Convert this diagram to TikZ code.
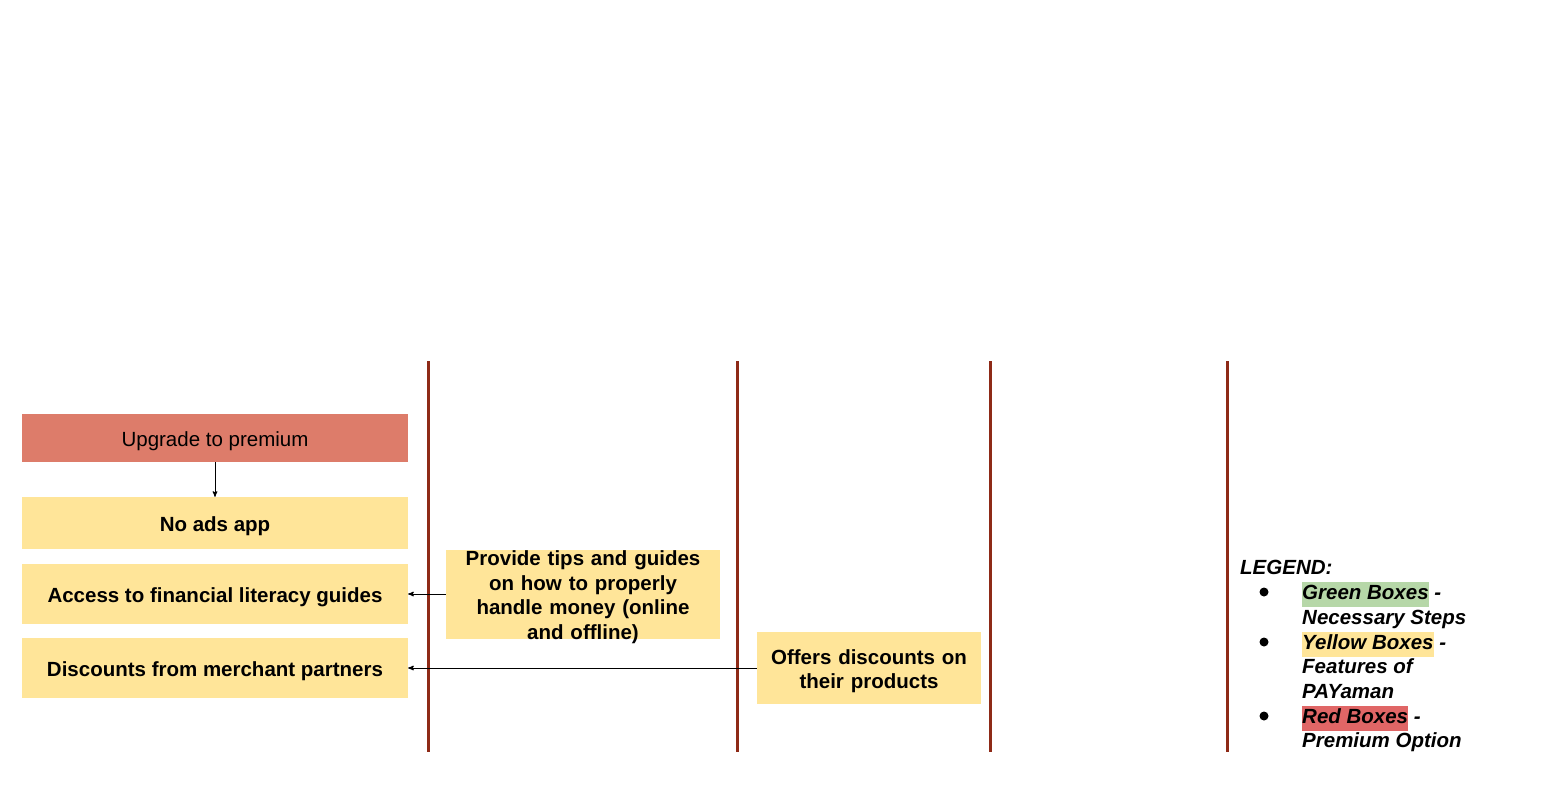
\documentclass[tikz,border=0pt]{standalone}
\usepackage{fontspec}
\setmainfont{Liberation Sans}
\usetikzlibrary{arrows}
\usepackage{xcolor}
\definecolor{premred}{HTML}{DD7C6A}
\definecolor{featyellow}{HTML}{FFE599}
\definecolor{stepgreen}{HTML}{B6D7A8}
\definecolor{legred}{HTML}{E06666}
\definecolor{lanebrown}{HTML}{8E2A17}
\newcommand{\boxfont}{\fontsize{20.5}{24.5}\selectfont}
\newcommand{\hlbox}[2]{{\setlength{\fboxsep}{0pt}\colorbox{#1}{\strut #2}}}
\tikzset{
 premium/.style={fill=premred, align=center, inner sep=0, font=\boxfont,
   execute at begin node={\rule{0pt}{21pt}}},
 feature/.style={fill=featyellow, align=center, inner sep=0, font=\boxfont\bfseries,
   execute at begin node={\rule{0pt}{21pt}}},
 legtext/.style={anchor=base west, inner sep=0, font=\boxfont\bfseries\itshape},
 legdot/.style={circle, fill=black, inner sep=0, minimum size=9},
}

\begin{document}
\begin{tikzpicture}[x=1pt,y=-1pt]
\useasboundingbox (0,0) rectangle (1554,803);
\foreach \x in {428,737,990,1227} {
 \draw[lanebrown, line width=3] (\x,361)--(\x,752);
}
\node[premium, minimum width=386, minimum height=48] (upgrade) at (215,438) {Upgrade to premium};
\node[feature, minimum width=386, minimum height=52] (noads) at (215,523) {No ads app};
\node[feature, minimum width=386, minimum height=60] (access) at (215,594) {Access to financial literacy guides};
\node[feature, minimum width=386, minimum height=60] (discounts) at (215,668) {Discounts from merchant partners};
\node[feature, text width=274, minimum height=89, inner ysep=-5] (tips) at (583,594) {Provide tips and guides\\ on how to properly\\ handle money (online\\ and offline)};
\node[feature, text width=224, minimum height=72] (offers) at (869,668) {Offers discounts on\\ their products};
\draw[black, line width=1, ->, >=stealth'] (upgrade) -- (noads);
\draw[black, line width=1, ->, >=stealth'] (tips) -- (access);
\draw[black, line width=1, ->, >=stealth'] (offers) -- (discounts);
% legend
\node[legtext] (legend) at (1240,574.5) {LEGEND:};
\foreach \y/\n in {592/dgreen,642/dyellow,716/dred} {
 \node[legdot] (\n) at (1264,\y) {};
}
\node[legtext] (green) at (1302,599.5) {\hlbox{stepgreen}{Green Boxes} -};
\node[legtext] (greendesc) at (1302,624.5) {Necessary Steps};
\node[legtext] (yellow) at (1302,649.5) {\hlbox{featyellow}{Yellow Boxes} -};
\node[legtext] (yellowdesc) at (1302,673.5) {Features of};
\node[legtext] (yellowdescb) at (1302,698.5) {PAYaman};
\node[legtext] (red) at (1302,723.5) {\hlbox{legred}{Red Boxes} -};
\node[legtext] (reddesc) at (1302,747.5) {Premium Option};
\end{tikzpicture}
\end{document}
